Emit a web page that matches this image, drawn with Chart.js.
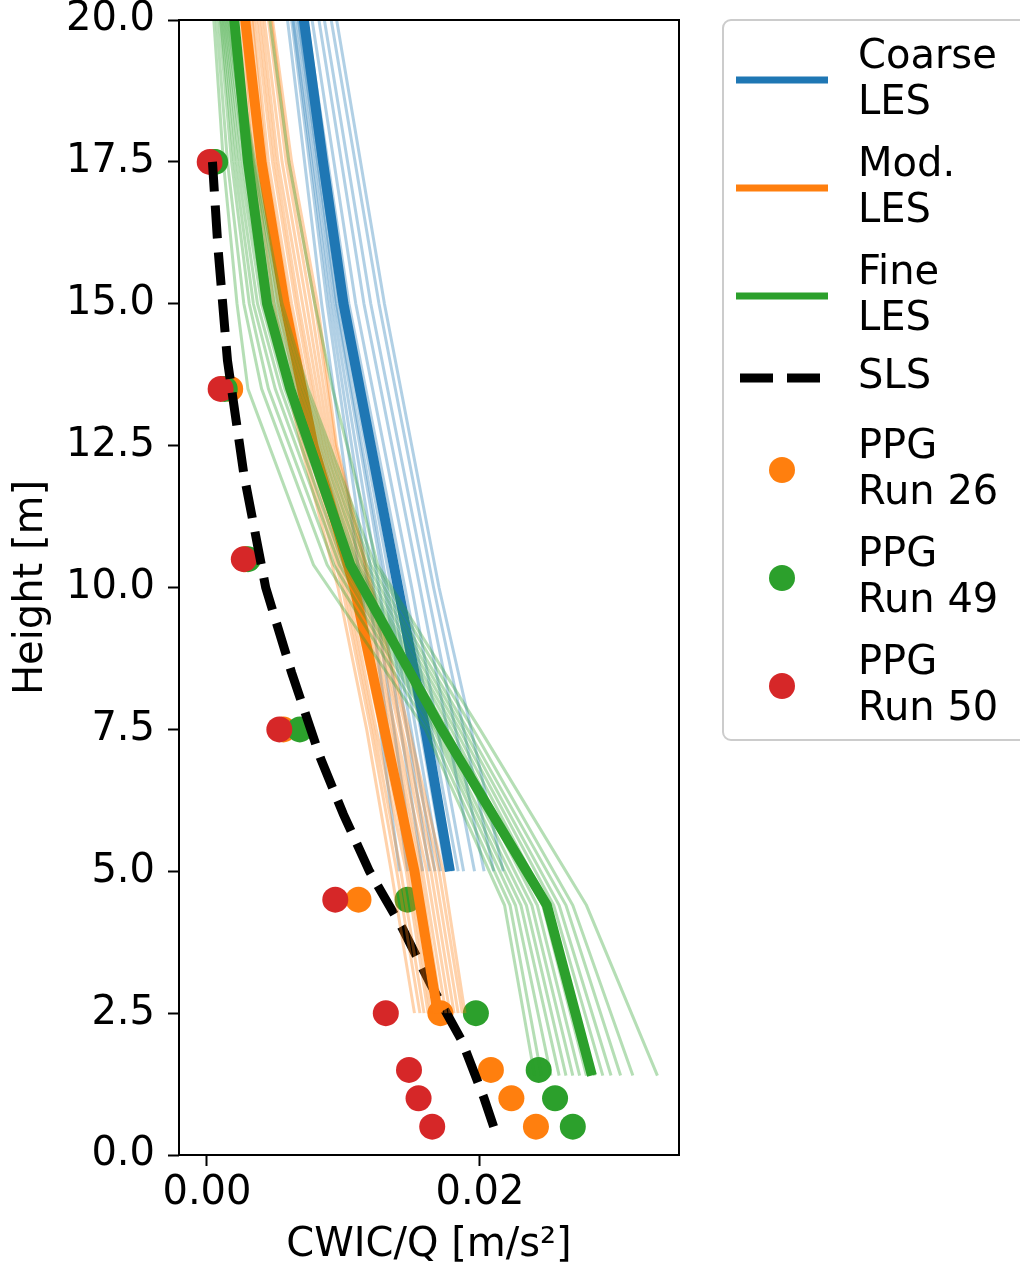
<!DOCTYPE html>
<html>
<head>
<meta charset="utf-8">
<script src="https://cdn.jsdelivr.net/npm/chart.js@4/dist/chart.umd.min.js"></script>
<style>
  body { margin: 0; background: #fff; }
  canvas { display: block; }
</style>
</head>
<body>
<canvas id="profile" width="1020" height="1274"></canvas>
<script>
/*-------------------- DATA --------------------*/
const xTickValues = [0.00, 0.02];

// PPG measurements
const ppgHeights = [0.5, 1.0, 1.5, 2.5, 4.5, 7.5, 10.5, 13.5, 17.5];
const run26 = [0.0241, 0.0223, 0.0208, 0.0171, 0.0111, 0.0056, 0.0028, 0.0017, 0.0005];
const run49 = [0.0268, 0.0255, 0.0243, 0.0197, 0.0147, 0.0068, 0.0030, 0.0013, 0.0006];
const run50 = [0.0165, 0.0155, 0.0148, 0.0131, 0.0094, 0.0053, 0.0027, 0.0010, 0.0002];

// SLS model
const slsHeights = [0.5, 1.0, 2.0, 3.0, 4.0, 5.0, 6.0, 7.0, 8.5, 10.0, 12.0, 14.0, 16.0, 17.5];
const slsValues = [0.0210, 0.0203, 0.0187, 0.0164, 0.0143, 0.0119, 0.0100, 0.0083, 0.0062, 0.0043, 0.0027, 0.0015, 0.0008, 0.0004];

// Coarse LES
const coarseHeights = [5.0, 7.5, 10.0, 12.5, 15.0, 17.5, 20.0];
const coarseMean = [0.0178, 0.0160, 0.0140, 0.0120, 0.0100, 0.0085, 0.0071];
const coarseMemberHeights = [5.0, 10.0, 15.0, 20.0];
const coarseMembers = [
    [0.0141, 0.0113, 0.0084, 0.0059],
    [0.0147, 0.0118, 0.0088, 0.0062],
    [0.0152, 0.0122, 0.0090, 0.0063],
    [0.0158, 0.0126, 0.0092, 0.0064],
    [0.0163, 0.0130, 0.0094, 0.0066],
    [0.0167, 0.0132, 0.0095, 0.0067],
    [0.0171, 0.0135, 0.0097, 0.0068],
    [0.0175, 0.0138, 0.0099, 0.0070],
    [0.0180, 0.0142, 0.0102, 0.0072],
    [0.0184, 0.0145, 0.0104, 0.0073],
    [0.0188, 0.0150, 0.0109, 0.0077],
    [0.0196, 0.0156, 0.0115, 0.0082],
    [0.0203, 0.0161, 0.0120, 0.0086],
    [0.0210, 0.0166, 0.0126, 0.0091],
    [0.0217, 0.0170, 0.0130, 0.0095]
];

// Moderate LES
const modHeights = [2.5, 5.0, 7.5, 10.0, 12.5, 15.0, 17.5, 20.0];
const modMean = [0.0169, 0.0152, 0.0130, 0.0108, 0.0078, 0.0057, 0.0040, 0.0028];
const modMembers = [
    [0.0152, 0.0135, 0.0117, 0.0096, 0.0069, 0.0046, 0.0033, 0.0025],
    [0.0156, 0.0139, 0.0120, 0.0099, 0.0071, 0.0049, 0.0035, 0.0026],
    [0.0159, 0.0142, 0.0122, 0.0101, 0.0074, 0.0052, 0.0037, 0.0028],
    [0.0162, 0.0146, 0.0124, 0.0103, 0.0076, 0.0055, 0.0039, 0.0029],
    [0.0164, 0.0148, 0.0127, 0.0105, 0.0077, 0.0058, 0.0041, 0.0031],
    [0.0167, 0.0151, 0.0129, 0.0107, 0.0080, 0.0060, 0.0043, 0.0033],
    [0.0170, 0.0153, 0.0131, 0.0110, 0.0082, 0.0062, 0.0045, 0.0034],
    [0.0172, 0.0156, 0.0134, 0.0111, 0.0084, 0.0065, 0.0048, 0.0036],
    [0.0175, 0.0158, 0.0136, 0.0113, 0.0086, 0.0067, 0.0050, 0.0038],
    [0.0178, 0.0161, 0.0138, 0.0115, 0.0088, 0.0070, 0.0052, 0.0040],
    [0.0181, 0.0164, 0.0141, 0.0117, 0.0090, 0.0073, 0.0055, 0.0042],
    [0.0184, 0.0167, 0.0143, 0.0119, 0.0092, 0.0076, 0.0058, 0.0045],
    [0.0187, 0.0170, 0.0146, 0.0120, 0.0094, 0.0079, 0.0060, 0.0047],
    [0.0189, 0.0173, 0.0148, 0.0121, 0.0095, 0.0081, 0.0062, 0.0048]
];

// Fine LES
const fineHeights = [1.4, 4.4, 7.5, 10.4, 13.5, 15.0, 17.5, 20.0];
const fineMean = [0.0282, 0.0249, 0.0172, 0.0105, 0.0061, 0.0044, 0.0030, 0.0020];
const fineMembers = [
    [0.0240, 0.0218, 0.0160, 0.0078, 0.0030, 0.0022, 0.0012, 0.0005],
    [0.0245, 0.0222, 0.0163, 0.0088, 0.0040, 0.0027, 0.0015, 0.0007],
    [0.0252, 0.0226, 0.0166, 0.0093, 0.0045, 0.0031, 0.0018, 0.0009],
    [0.0258, 0.0230, 0.0168, 0.0097, 0.0050, 0.0034, 0.0020, 0.0010],
    [0.0263, 0.0234, 0.0170, 0.0100, 0.0054, 0.0037, 0.0022, 0.0011],
    [0.0268, 0.0238, 0.0173, 0.0103, 0.0057, 0.0040, 0.0024, 0.0012],
    [0.0273, 0.0242, 0.0176, 0.0106, 0.0060, 0.0042, 0.0026, 0.0013],
    [0.0278, 0.0246, 0.0179, 0.0109, 0.0063, 0.0045, 0.0028, 0.0014],
    [0.0284, 0.0250, 0.0182, 0.0111, 0.0066, 0.0047, 0.0030, 0.0015],
    [0.0290, 0.0254, 0.0185, 0.0114, 0.0068, 0.0049, 0.0031, 0.0016],
    [0.0296, 0.0258, 0.0188, 0.0117, 0.0070, 0.0051, 0.0033, 0.0017],
    [0.0303, 0.0263, 0.0191, 0.0120, 0.0072, 0.0053, 0.0034, 0.0018],
    [0.0312, 0.0268, 0.0195, 0.0123, 0.0074, 0.0055, 0.0035, 0.0018],
    [0.0330, 0.0278, 0.0200, 0.0125, 0.0092, 0.0079, 0.0060, 0.0046]
];

const legendLabels = [['Coarse', 'LES'], ['Mod.', 'LES'], ['Fine', 'LES'], ['SLS'],
    ['PPG', 'Run 26'], ['PPG', 'Run 49'], ['PPG', 'Run 50']];

/*-------------------- STYLE --------------------*/
const BLUE = '#1f77b4';
const ORANGE = '#ff7f0e';
const GREEN = '#2ca02c';
const RED = '#d62728';
const FONT = "'DejaVu Sans', sans-serif";

Chart.defaults.font.family = FONT;
Chart.defaults.font.size = 40;
Chart.defaults.color = '#000';

function toPoints(heights, values) {
    return values.map((v, i) => ({ x: v, y: heights[i] }));
}

function memberSets(heights, members, color, order) {
    return members.map((m) => ({
        data: toPoints(heights, m),
        showLine: true,
        borderColor: color,
        borderWidth: 3,
        pointRadius: 0,
        order: order
    }));
}

function meanSet(heights, values, color, order) {
    return {
        data: toPoints(heights, values),
        showLine: true,
        borderColor: color,
        borderWidth: 10,
        pointRadius: 0,
        order: order
    };
}

function ppgSet(values, color, order) {
    return {
        data: toPoints(ppgHeights, values),
        showLine: false,
        backgroundColor: color,
        borderWidth: 0,
        pointRadius: 13,
        order: order
    };
}

function fade(hex, a) {
    const n = parseInt(hex.slice(1), 16);
    return `rgba(${(n >> 16) & 255},${(n >> 8) & 255},${n & 255},${a})`;
}

/*-------------------- CHART --------------------*/
const datasets = [].concat(
    memberSets(coarseMemberHeights, coarseMembers, fade(BLUE, 0.35), 80),
    [meanSet(coarseHeights, coarseMean, BLUE, 70)],
    memberSets(modHeights, modMembers, fade(ORANGE, 0.35), 60),
    [meanSet(modHeights, modMean, ORANGE, 50)],
    memberSets(fineHeights, fineMembers, fade(GREEN, 0.35), 40),
    [meanSet(fineHeights, fineMean, GREEN, 30)],
    [{
        data: toPoints(slsHeights, slsValues),
        showLine: true,
        borderColor: '#000',
        borderWidth: 9,
        borderDash: [33, 14],
        pointRadius: 0,
        order: 90
    }],
    [ppgSet(run26, ORANGE, 102), ppgSet(run49, GREEN, 101), ppgSet(run50, RED, 100)]
);

const frame = {
    id: 'frame',
    afterDatasetsDraw(chart) {
        const a = chart.chartArea;
        const ctx = chart.ctx;
        ctx.save();
        ctx.strokeStyle = '#000';
        ctx.lineWidth = 2;
        ctx.strokeRect(a.left, a.top, a.right - a.left, a.bottom - a.top);
        ctx.restore();
    }
};

const sideLegend = {
    id: 'sideLegend',
    afterDraw(chart) {
        const ctx = chart.ctx;
        const rows = [80, 188, 296, 378, 470, 578, 686];
        const kinds = [BLUE, ORANGE, GREEN, 'dash', ORANGE, GREEN, RED];
        ctx.save();
        ctx.beginPath();
        ctx.roundRect(723, 20, 330, 720, 8);
        ctx.fillStyle = 'rgba(255,255,255,0.8)';
        ctx.fill();
        ctx.strokeStyle = '#cccccc';
        ctx.lineWidth = 2;
        ctx.stroke();

        rows.forEach((cy, i) => {
            const k = kinds[i];
            if (i < 3) {
                ctx.beginPath();
                ctx.strokeStyle = k;
                ctx.lineWidth = 7;
                ctx.moveTo(736, cy);
                ctx.lineTo(828, cy);
                ctx.stroke();
            } else if (k === 'dash') {
                ctx.beginPath();
                ctx.strokeStyle = '#000';
                ctx.lineWidth = 9;
                ctx.setLineDash([33, 14]);
                ctx.moveTo(740, cy);
                ctx.lineTo(828, cy);
                ctx.stroke();
                ctx.setLineDash([]);
            } else {
                ctx.beginPath();
                ctx.fillStyle = k;
                ctx.arc(782, cy, 13, 0, Math.PI * 2);
                ctx.fill();
            }
            const lines = legendLabels[i];
            ctx.fillStyle = '#000';
            ctx.font = `40px ${FONT}`;
            ctx.textBaseline = 'middle';
            ctx.textAlign = 'left';
            if (lines.length === 1) {
                ctx.fillText(lines[0], 858, cy);
            } else {
                ctx.fillText(lines[0], 858, cy - 22);
                ctx.fillText(lines[1], 858, cy + 24);
            }
        });
        ctx.restore();
    }
};

new Chart(document.getElementById('profile'), {
    type: 'scatter',
    data: { datasets: datasets },
    options: {
        responsive: false,
        animation: false,
        devicePixelRatio: 1,
        layout: { padding: { top: 20, right: 341, bottom: 0, left: 0 } },
        plugins: {
            legend: { display: false },
            tooltip: { enabled: false }
        },
        scales: {
            x: {
                type: 'linear',
                min: -0.00205,
                max: 0.03458,
                afterBuildTicks: (s) => { s.ticks = xTickValues.map((v) => ({ value: v })); },
                afterFit: (s) => { s.height = 119; s.paddingLeft = 0; s.paddingRight = 0; },
                ticks: { callback: (v) => v.toFixed(2), padding: 4, maxRotation: 0 },
                grid: { drawOnChartArea: false, tickLength: 11, tickWidth: 2, tickColor: '#000' },
                border: { display: false },
                title: { display: true, text: 'CWIC/Q [m/s²]', padding: { top: 0, bottom: 4 } }
            },
            y: {
                min: 0,
                max: 20,
                afterFit: (s) => { s.width = 179; s.paddingTop = 0; s.paddingBottom = 0; },
                ticks: { stepSize: 2.5, callback: (v) => v.toFixed(1), padding: 13 },
                grid: { drawOnChartArea: false, tickLength: 11, tickWidth: 2, tickColor: '#000' },
                border: { display: false },
                title: { display: true, text: 'Height [m]', padding: { top: 8, bottom: 0 } }
            }
        }
    },
    plugins: [frame, sideLegend]
});
</script>
</body>
</html>
